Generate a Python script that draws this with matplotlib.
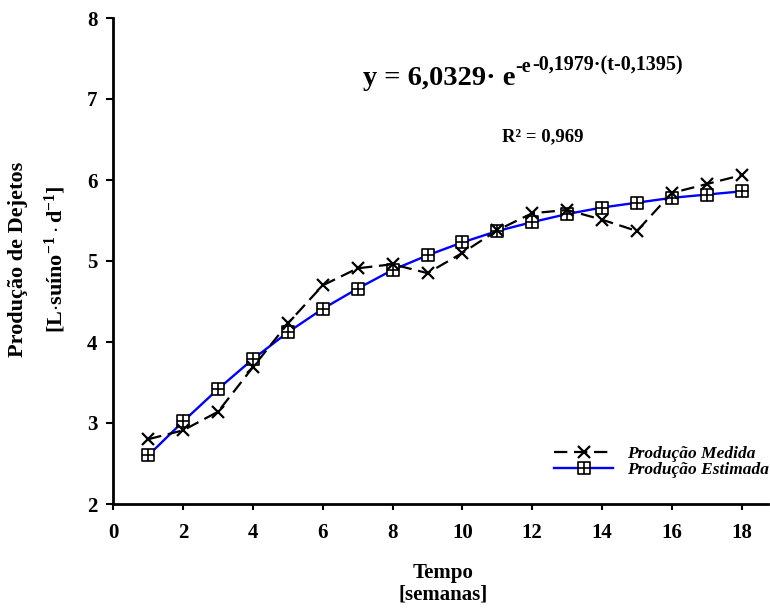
import matplotlib
matplotlib.use("Agg")
import matplotlib.pyplot as plt
from matplotlib.path import Path

plt.rcParams['font.family'] = ['Liberation Serif', 'DejaVu Serif']
plt.rcParams['mathtext.fontset'] = 'custom'
plt.rcParams['mathtext.rm'] = 'Liberation Serif:bold'
plt.rcParams['mathtext.bf'] = 'Liberation Serif:bold'
plt.rcParams['mathtext.it'] = 'Liberation Serif:bold'

semanas = [1, 2, 3, 4, 5, 6, 7, 8, 9, 10, 11, 12, 13, 14, 15, 16, 17, 18]
medida = [2.80, 2.91, 3.14, 3.69, 4.23, 4.70, 4.91, 4.96, 4.85, 5.10, 5.38,
          5.59, 5.63, 5.51, 5.37, 5.84, 5.95, 6.06]
estimada = [2.60, 3.02, 3.42, 3.79, 4.12, 4.41, 4.66, 4.89, 5.07, 5.23, 5.37,
            5.48, 5.58, 5.66, 5.72, 5.78, 5.82, 5.86]
xticks = [0, 2, 4, 6, 8, 10, 12, 14, 16, 18]
yticks = [2, 3, 4, 5, 6, 7, 8]

W, H = 770, 614
fig = plt.figure(figsize=(7.7, 6.14), dpi=100)
ax = fig.add_axes([113.4/W, 1-504/H, (767.8-113.4)/W, (504-18)/H])

verts = [(-1, -1), (1, -1), (1, 1), (-1, 1), (-1, -1),
         (0, -1), (0, 1), (-1, 0), (1, 0)]
codes = [Path.MOVETO, Path.LINETO, Path.LINETO, Path.LINETO, Path.CLOSEPOLY,
         Path.MOVETO, Path.LINETO, Path.MOVETO, Path.LINETO]
sqplus = Path(verts, codes)

ax.plot(semanas, estimada, color='#0000ff', lw=1.7, marker=sqplus, ms=8,
        mfc='white', mec='black', mew=1.2, label='Produção Estimada', zorder=3)
ax.plot(semanas, medida, color='black', lw=1.6, ls=(0, (6, 3)), marker='x', ms=9,
        mew=1.6, label='Produção Medida', zorder=4)

ax.set_xlim(0, 18.75)
ax.set_ylim(2, 8)
ax.set_xticks(xticks)
ax.set_yticks(yticks)
for s in ['top', 'right']:
    ax.spines[s].set_visible(False)
for s in ['left', 'bottom']:
    ax.spines[s].set_linewidth(2)
ax.tick_params(axis='both', direction='out', width=1.5, labelsize=15)
ax.tick_params(axis='x', length=4.5, pad=9.5)
ax.tick_params(axis='y', length=5, pad=6.5)
for lab in ax.get_xticklabels() + ax.get_yticklabels():
    lab.set_fontweight('bold')

h, l = ax.get_legend_handles_labels()
leg = ax.legend([h[1], h[0]], [l[1], l[0]], loc='lower right',
                bbox_to_anchor=(769/W, 1-478/H), bbox_transform=fig.transFigure,
                frameon=False, handlelength=3.4, handletextpad=0.8, labelspacing=0.0,
                borderpad=0, borderaxespad=0,
                prop={'family': 'Liberation Serif', 'weight': 'bold', 'style': 'italic', 'size': 12.5})

# equation built from pieces
fig.canvas.draw()
r = fig.canvas.get_renderer()
t1 = fig.text(363/W, 1-85/H, 'y = 6,0329· e', fontsize=20.5, fontweight='bold',
              ha='left', va='baseline')
bb = t1.get_window_extent(r)
t2 = fig.text(bb.x1/W, 1-72/H, '-e', fontsize=14.5, fontweight='bold',
              ha='left', va='baseline')
bb2 = t2.get_window_extent(r)
t3 = fig.text(bb2.x1/W + 1/W, 1-70/H, '-0,1979·(t-0,1395)', fontsize=14.5, fontweight='bold',
              ha='left', va='baseline')

fig.text(543/W, 1-137/H, 'R² = 0,969', fontsize=13.5, fontweight='bold',
         ha='center', va='center')

fig.text(443/W, 1-573/H, 'Tempo', fontsize=15, fontweight='bold', ha='center', va='center')
fig.text(443/W, 1-595/H, '[semanas]', fontsize=15, fontweight='bold', ha='center', va='center')

fig.text(18/W, 1-259/H, 'Produção de Dejetos', fontsize=16, fontweight='bold',
         rotation=90, ha='center', va='center')
fig.text(55/W, 1-259/H, r'[L$\cdot$suíno$^{-1}\cdot$d$^{-1}$]', fontsize=16,
         fontweight='bold', rotation=90, ha='center', va='center')

fig.savefig('out.png', dpi=100)
